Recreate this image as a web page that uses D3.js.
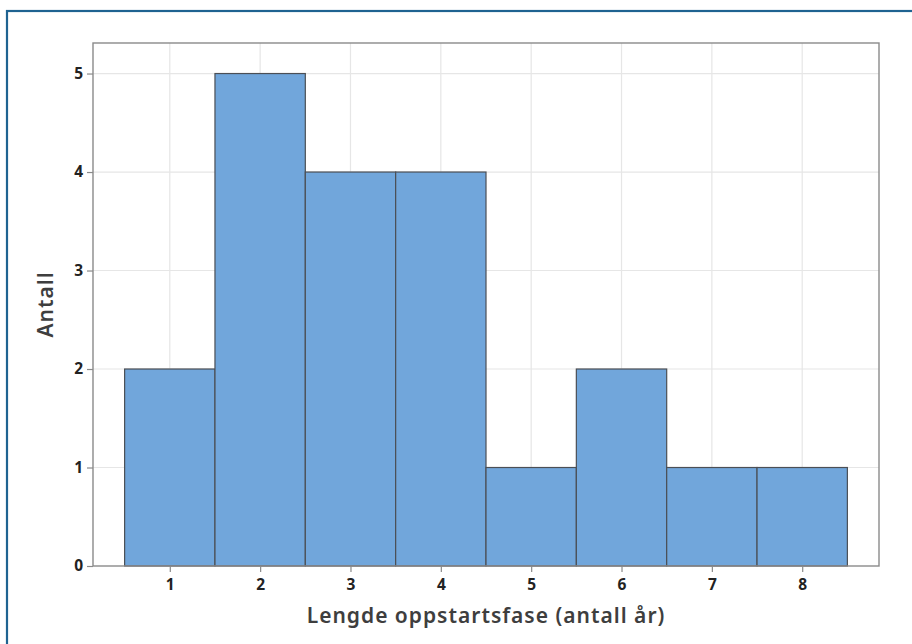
<!DOCTYPE html>
<html>
<head>
<meta charset="utf-8">
<script src="https://cdn.jsdelivr.net/npm/d3@7"></script>
<style>
  body { margin: 0; background: #fff; }
  svg { display: block; font-family: "Noto Sans", "Open Sans", sans-serif; }
</style>
</head>
<body>
<svg id="chart" width="912" height="644"></svg>
<script>
// histogram bins (lengde oppstartsfase, antall år)
const binCenters = [1, 2, 3, 4, 5, 6, 7, 8];
const counts = [2, 5, 4, 4, 1, 2, 1, 1];
const xTicks = [1, 2, 3, 4, 5, 6, 7, 8];
const yTicks = [0, 1, 2, 3, 4, 5];

const svg = d3.select("#chart");
const plotL = 93, plotR = 879, plotT = 43, plotB = 566;
const FONT = '"Noto Sans", "Open Sans", sans-serif';

// outer frame
svg.append("rect")
  .attr("x", 7).attr("y", 11)
  .attr("width", 1000).attr("height", 1000)
  .attr("fill", "none")
  .attr("stroke", "#1f6391")
  .attr("stroke-width", 2.2);

const x = d3.scaleLinear().domain([0.15, 8.85]).range([plotL, plotR]);
const y = d3.scaleLinear().domain([0, 5.31]).range([plotB, plotT]);

const g = svg.append("g");

// grid
g.selectAll(".gx").data(xTicks).join("line")
  .attr("x1", d => x(d)).attr("x2", d => x(d))
  .attr("y1", plotT).attr("y2", plotB)
  .attr("stroke", "#e6e6e6").attr("stroke-width", 1.2);
g.selectAll(".gy").data(yTicks.filter(d => d > 0)).join("line")
  .attr("x1", plotL).attr("x2", plotR)
  .attr("y1", d => y(d)).attr("y2", d => y(d))
  .attr("stroke", "#e6e6e6").attr("stroke-width", 1.2);

// bars
g.selectAll(".bar").data(counts).join("rect")
  .attr("x", (d, i) => x(binCenters[i] - 0.5))
  .attr("width", (d, i) => x(binCenters[i] + 0.5) - x(binCenters[i] - 0.5))
  .attr("y", d => y(d))
  .attr("height", d => y(0) - y(d))
  .attr("fill", "#71a6db")
  .attr("stroke", "#4b4f55")
  .attr("stroke-width", 1.2);

// plot border
g.append("rect")
  .attr("x", plotL).attr("y", plotT)
  .attr("width", plotR - plotL).attr("height", plotB - plotT)
  .attr("fill", "none")
  .attr("stroke", "#8a8a8a")
  .attr("stroke-width", 1.4);

// axes
const xAxis = svg.append("g")
  .attr("transform", `translate(0,${plotB})`)
  .call(d3.axisBottom(x).tickValues(xTicks).tickFormat(d3.format("d"))
    .tickSize(6).tickPadding(7).tickSizeOuter(0));
const yAxis = svg.append("g")
  .attr("transform", `translate(${plotL},0)`)
  .call(d3.axisLeft(y).tickValues(yTicks).tickFormat(d3.format("d"))
    .tickSize(6).tickPadding(4).tickSizeOuter(0));

[xAxis, yAxis].forEach(a => {
  a.attr("font-family", FONT).attr("font-size", 15.5);
  a.select(".domain").remove();
  a.selectAll(".tick line").attr("stroke", "#8a8a8a").attr("stroke-width", 1.2);
  a.selectAll(".tick text")
    .attr("fill", "#222")
    .style("font-weight", "700");
});

// axis titles
svg.append("text")
  .attr("x", (plotL + plotR) / 2).attr("y", 623)
  .attr("text-anchor", "middle")
  .attr("fill", "#3e3e3e")
  .style("font-family", FONT)
  .style("font-size", "21px")
  .style("font-weight", "600")
  .style("letter-spacing", "1px")
  .text("Lengde oppstartsfase (antall år)");

svg.append("text")
  .attr("transform", `translate(53,${(plotT + plotB) / 2}) rotate(-90)`)
  .attr("text-anchor", "middle")
  .attr("fill", "#3e3e3e")
  .style("font-family", FONT)
  .style("font-size", "21px")
  .style("font-weight", "600")
  .style("letter-spacing", "1px")
  .text("Antall");
</script>
</body>
</html>
